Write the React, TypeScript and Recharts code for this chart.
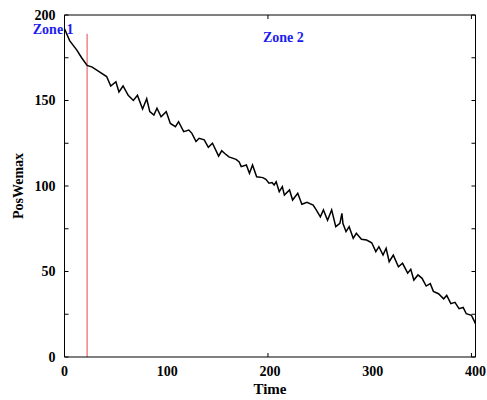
import React from 'react';
import { LineChart, Line, XAxis, YAxis, ReferenceLine, ReferenceDot } from 'recharts';

// time samples and PosWemax readings
const times = [
  0, 5, 12, 17, 22, 27, 34, 41, 45, 50, 53, 57, 62, 67, 71, 76, 80, 83, 87, 90,
  94, 99, 103, 108, 111, 116, 121, 124, 128, 131, 136, 140, 144, 150, 153, 156, 160, 167, 170, 172,
  177, 180, 183, 187, 193, 196, 199, 202, 204, 206, 209, 212, 214, 219, 222, 227, 231, 236, 242, 245,
  249, 252, 256, 260, 264, 268, 270, 271, 274, 277, 281, 284, 289, 294, 299, 303, 306, 310, 313, 316,
  320, 325, 329, 334, 337, 340, 344, 348, 352, 356, 359, 364, 369, 372, 376, 380, 384, 388, 391, 396,
  398, 400,
];
const posWemax = [
  192, 185, 179.5, 174.7, 170.5, 169.5, 166.8, 164, 158.5, 161, 155, 158.5, 153, 150, 153, 145, 151, 143.5, 141.5, 145.5,
  140.5, 143.5, 136.6, 134.7, 137.6, 131.8, 132.7, 130.8, 126, 127.9, 127, 122.6, 125, 117.5, 120.6, 119, 117, 115.6, 114, 111.3,
  112.3, 107.4, 112.3, 105.4, 104.9, 103.9, 101.6, 102, 100.6, 102.5, 96.7, 99.6, 94.7, 97.7, 91.8, 95.7, 89.3, 90.5, 88.9, 86,
  82, 86, 80, 86, 76.2, 78.2, 84, 78, 73.3, 76.2, 69.4, 72.3, 68.8, 68.4, 66.8, 61.6, 64.5, 59.6, 63.6, 55.7,
  59.6, 52.8, 54.8, 49, 51.3, 45, 48, 46, 41.5, 42.9, 38.4, 37, 34, 36, 31.2, 32, 28.3, 29, 25.3, 24.4,
  22, 19.5,
];

const xTicks = [0, 100, 200, 300, 400];
const xMinorTicks = [0, 50, 100, 150, 200, 250, 300, 350, 400];
const yTicks = [0, 50, 100, 150, 200];
const yMinorTicks = [0, 25, 50, 75, 100, 125, 150, 175, 200];

const zoneBoundary = 22;
const zoneBoundaryTop = 189;
const zoneNames = ['Zone 1', 'Zone 2'];
const zoneTimes = [-11, 213];
const zoneValues = [192, 187];

const data = times.map((t, i) => ({ time: t, value: posWemax[i] }));

const tickStyle = { fill: '#000', fontSize: 14, fontWeight: 'bold' };
const noLabel = () => <g />;

export default function App() {
  return (
    <div style={{ position: 'absolute', left: 0, top: 0, fontFamily: '"Liberation Serif", "Times New Roman", serif', background: '#fff' }}>
      <LineChart width={487} height={400} data={data} margin={{ top: 15, right: 11.5, bottom: 0, left: 0 }}>
        <XAxis
          xAxisId={0}
          dataKey="time"
          type="number"
          domain={[0, 400]}
          allowDataOverflow
          ticks={xTicks}
          interval={0}
          tickLine={false}
          tickSize={0}
          tickMargin={9}
          height={43}
          axisLine={{ stroke: '#000' }}
          tick={tickStyle}
          label={{ value: 'Time', position: 'insideBottom', offset: 6, fill: '#000', fontSize: 15, fontWeight: 'bold' }}
        />
        <XAxis xAxisId="bottomTicks" type="number" domain={[0, 400]} allowDataOverflow ticks={xMinorTicks} interval={0} mirror tick={noLabel} tickSize={4} axisLine={false} tickLine={{ stroke: '#000' }} />
        <XAxis xAxisId="top" orientation="top" type="number" domain={[0, 400]} allowDataOverflow ticks={xMinorTicks} interval={0} mirror tick={noLabel} tickSize={4} axisLine={{ stroke: '#000' }} tickLine={{ stroke: '#000' }} />
        <YAxis
          yAxisId={0}
          type="number"
          domain={[0, 200]}
          allowDataOverflow
          ticks={yTicks}
          interval={0}
          tickLine={false}
          tickSize={0}
          tickMargin={9}
          width={64.5}
          axisLine={{ stroke: '#000' }}
          tick={tickStyle}
          label={{ value: 'PosWemax', angle: -90, position: 'insideLeft', offset: 18, fill: '#000', fontSize: 14, fontWeight: 'bold', style: { textAnchor: 'middle' } }}
        />
        <YAxis yAxisId="leftTicks" type="number" domain={[0, 200]} allowDataOverflow ticks={yMinorTicks} interval={0} mirror tick={noLabel} tickSize={4} axisLine={false} tickLine={{ stroke: '#000' }} />
        <YAxis yAxisId="right" orientation="right" type="number" domain={[0, 200]} allowDataOverflow ticks={yMinorTicks} interval={0} mirror tick={noLabel} tickSize={4} axisLine={{ stroke: '#000' }} tickLine={{ stroke: '#000' }} />
        <ReferenceLine
          segment={[{ x: zoneBoundary, y: 0 }, { x: zoneBoundary, y: zoneBoundaryTop }]}
          stroke="#e84848"
          strokeWidth={1}
        />
        <Line
          type="linear"
          dataKey="value"
          stroke="#000"
          strokeWidth={1.5}
          dot={false}
          isAnimationActive={false}
        />
        {zoneNames.map((name, i) => (
          <ReferenceDot
            key={name}
            x={zoneTimes[i]}
            y={zoneValues[i]}
            r={0}
            fill="none"
            stroke="none"
            ifOverflow="visible"
            label={{ value: name, position: 'center', fill: '#1c1cf0', fontSize: 14, fontWeight: 'bold' }}
          />
        ))}
      </LineChart>
    </div>
  );
}
